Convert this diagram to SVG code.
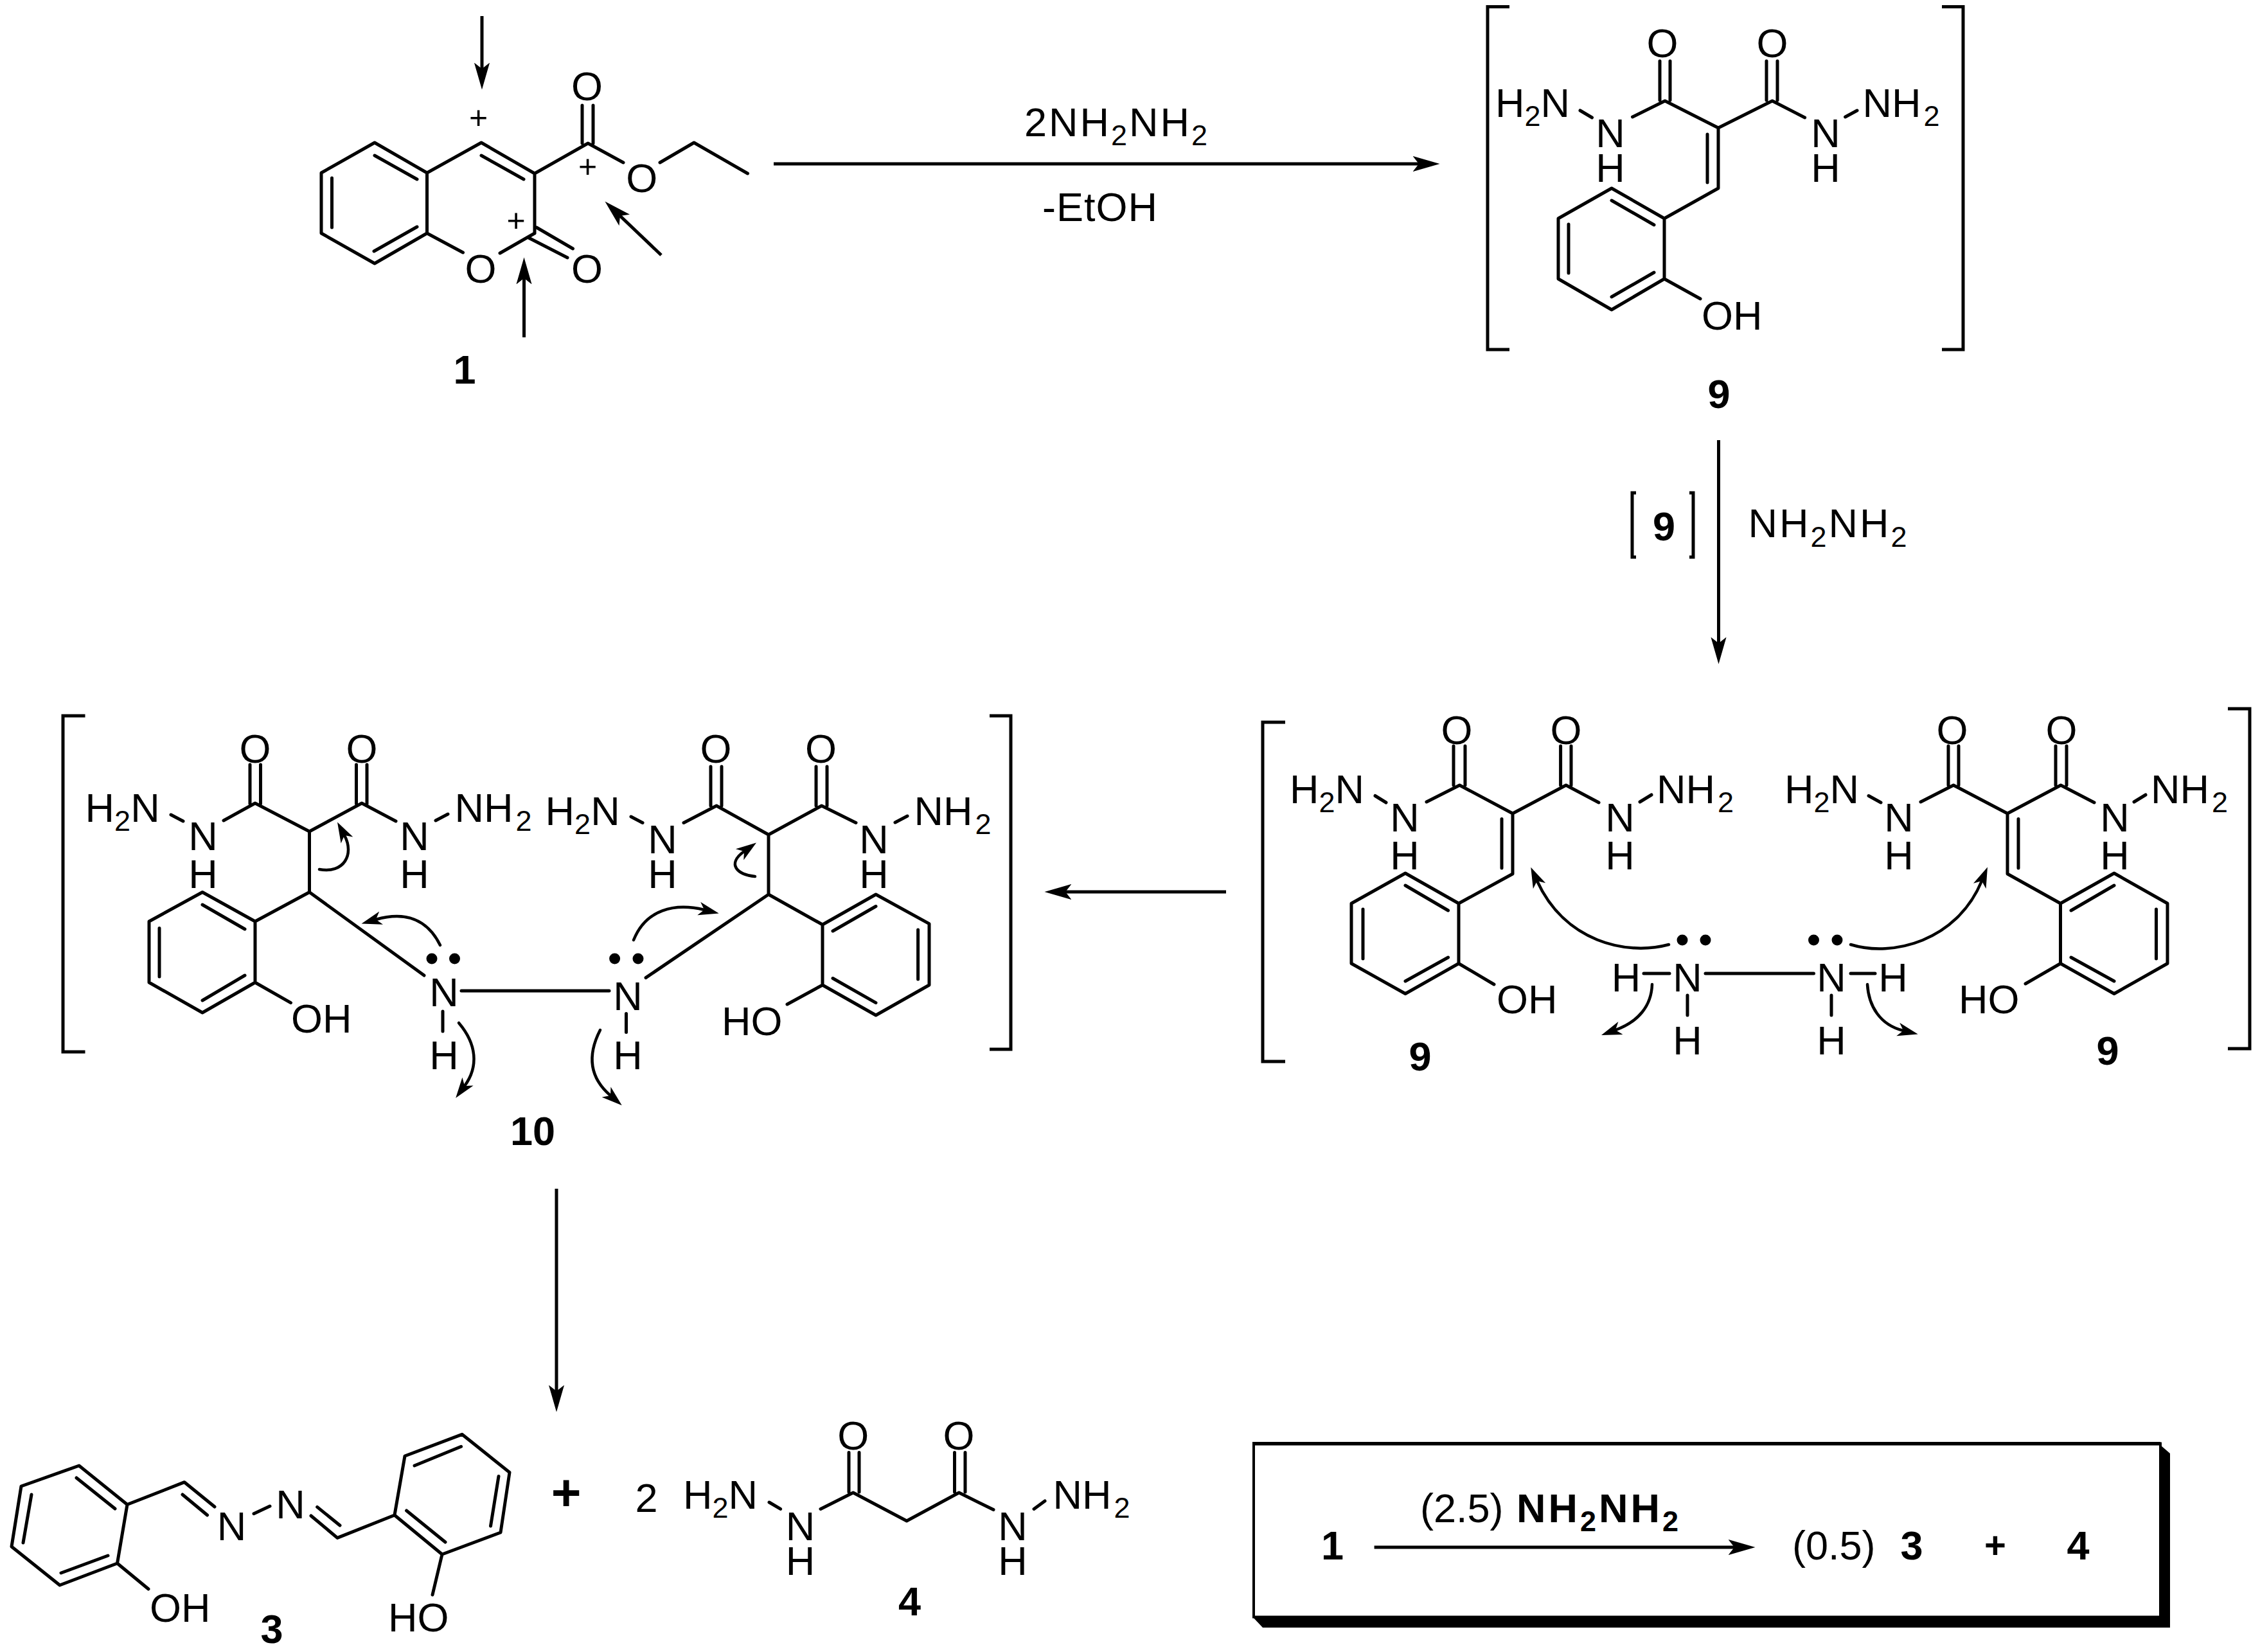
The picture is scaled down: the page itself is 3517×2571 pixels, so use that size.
<svg xmlns="http://www.w3.org/2000/svg" width="3517" height="2571" viewBox="0 0 3517 2571">
<style>
text{font-family:"Liberation Sans",Arial,sans-serif;font-size:63px;fill:#000}
.m{text-anchor:middle}
.b{font-weight:700}
.c{font-size:50px;text-anchor:middle}
.s{font-size:45px}
.bond{fill:none;stroke:#000;stroke-width:5;stroke-linejoin:round;stroke-linecap:round}
.br{fill:none;stroke:#000;stroke-width:5;stroke-linejoin:miter}
.ar{fill:none;stroke:#000;stroke-width:5;marker-end:url(#head)}
.cu{fill:none;stroke:#000;stroke-width:4.5;stroke-linecap:round;marker-end:url(#chead)}
</style>
<defs>
<marker id="head" markerUnits="userSpaceOnUse" markerWidth="42" markerHeight="26" viewBox="0 -12 40 24" refX="9" refY="0" orient="auto"><path d="M40 0L0 -11.5L9 0L0 11.5Z" fill="#000"/></marker>
<marker id="chead" markerUnits="userSpaceOnUse" markerWidth="34" markerHeight="24" viewBox="0 -11 32 22" refX="8" refY="0" orient="auto"><path d="M30 0L0 -10L8 0L0 10Z" fill="#000"/></marker>
</defs>
<rect width="3517" height="2571" fill="#fff"/>

<g id="connectors">
<path class="ar" d="M1204 255H2208"/>
<path class="ar" d="M2674.500 685V1001"/>
<path class="ar" d="M1908 1388H1658"/>
<path class="ar" d="M866 1850V2165"/>
</g>

<g id="mol-1">
<path class="bond" d="M583 222L500 269V363L583 410L664.500 363V269ZM583 242L649 279M516.500 277V354M582 391L649 353M664.500 269L749 222L832 270V363M749 242L815 279M664.500 363L720.500 393M778 394L832 363M835 354L891.500 387M822.500 370L883 401M832 270L915 223L970 253M906 164V223M923 164V223M1027 253L1080 222L1163.500 270"/>
<text class="m" x="748" y="440">O</text>
<text class="m" x="913.500" y="440">O</text>
<text class="m" x="913.500" y="156">O</text>
<text class="m" x="998.700" y="299">O</text>
<text class="c" x="744.600" y="200">+</text>
<text class="c" x="914.500" y="276">+</text>
<text class="c" x="803" y="360">+</text>
<path class="ar" d="M750 25V107"/>
<path class="ar" d="M815.500 525V433"/>
<path class="ar" d="M1029 397L965 336"/>
<text class="m b" x="723" y="597">1</text>
</g>

<g id="reagents-top">
<text x="1594" y="212" letter-spacing="3">2NH<tspan class="s" dy="14">2</tspan><tspan dy="-14">NH</tspan><tspan class="s" dy="14">2</tspan></text>
<text x="1622" y="344" letter-spacing="1">-EtOH</text>
</g>

<g id="mol-9-top">
<path class="br" d="M2349 10.500H2315V544H2349M3022 10.500H3055V544H3022"/>
<path class="bond" d="M2540.500 182L2591 157L2674 199L2758 157L2808.600 183M2583 95V156M2599 95V156M2749 95V156M2766 95V156M2674 199V293L2590 340M2657 209V284M2459 172L2477.500 183M2871.600 182L2890 172M2508 293L2425 340V434L2508 482L2590 434V340ZM2508 312L2574 350M2441 349V425M2508 462L2574 424M2590 434L2646 465"/>
<text class="m" x="2587" y="89">O</text>
<text class="m" x="2758" y="89">O</text>
<text x="2327" y="182">H<tspan class="s" dy="14">2</tspan><tspan dy="-14">N</tspan></text>
<text class="m" x="2506" y="229">N</text>
<text class="m" x="2506" y="283">H</text>
<text class="m" x="2841" y="229">N</text>
<text class="m" x="2841" y="283">H</text>
<text x="2898.500" y="182">NH<tspan class="s" dx="4" dy="14">2</tspan></text>
<text x="2648" y="513">OH</text>
<text class="m b" x="2675" y="635">9</text>
</g>

<g id="reagents-right">
<path class="br" d="M2546 767H2540V867H2546M2629 767H2635V867H2629"/>
<text class="m b" x="2589.500" y="841">9</text>
<text x="2720.500" y="836" letter-spacing="3">NH<tspan class="s" dy="15">2</tspan><tspan dy="-15">NH</tspan><tspan class="s" dy="15">2</tspan></text>
</g>

<g id="dimer-9">
<path class="br" d="M2000 1124H1965V1652H2000M3467 1103H3501V1632H3467"/>
<path class="bond" d="M2220 1248L2271.400 1222L2354 1266L2437 1222L2488 1249M2262 1161V1222M2280 1161V1222M2428.600 1161V1222M2445 1161V1222M2354 1266V1360L2270 1406M2337 1274.500V1351M2140 1238.500L2157 1249M2552 1248L2570 1237M2187 1359L2103 1406V1499.500L2187 1546.500L2270 1499.500V1406ZM2187 1378L2253.600 1417M2121 1415V1492M2187 1527L2253.600 1490M2270 1499.500L2325 1532"/>
<text class="m" x="2267" y="1158">O</text>
<text class="m" x="2437" y="1158">O</text>
<text x="2007" y="1250">H<tspan class="s" dy="14">2</tspan><tspan dy="-14">N</tspan></text>
<text class="m" x="2186" y="1294">N</text>
<text class="m" x="2186" y="1352.500">H</text>
<text class="m" x="2521" y="1294">N</text>
<text class="m" x="2521" y="1352.500">H</text>
<text x="2578" y="1250">NH<tspan class="s" dx="4" dy="14">2</tspan></text>
<text x="2329" y="1577">OH</text>
<text class="m b" x="2210" y="1666">9</text>

<path class="bond" d="M2989 1248L3040 1222L3124 1266L3207 1222L3259 1249M3032 1161V1222M3048 1161V1222M3199 1161V1222M3216 1161V1222M3124 1266V1360L3206.500 1406M3141 1274.500V1351M2908 1238.500L2927 1249M3321 1248L3339 1237M3290 1359L3373 1406V1499.500L3290 1546.500L3206.500 1499.500V1406ZM3290 1378L3223 1417M3355.500 1415V1492M3290 1527L3223 1490M3206.500 1499.500L3152 1531"/>
<text class="m" x="3038" y="1158">O</text>
<text class="m" x="3208" y="1158">O</text>
<text x="2777" y="1250">H<tspan class="s" dy="14">2</tspan><tspan dy="-14">N</tspan></text>
<text class="m" x="2955" y="1294">N</text>
<text class="m" x="2955" y="1352.500">H</text>
<text class="m" x="3291" y="1294">N</text>
<text class="m" x="3291" y="1352.500">H</text>
<text x="3347" y="1250">NH<tspan class="s" dx="4" dy="14">2</tspan></text>
<text x="3048" y="1577">HO</text>
<text class="m b" x="3280" y="1656.500">9</text>

<path class="bond" d="M2558 1515H2598M2654 1515H2822.500M2880 1515H2918M2626 1549V1580M2850 1549V1580"/>
<text class="m" x="2530.600" y="1543">H</text>
<text class="m" x="2626" y="1543">N</text>
<text class="m" x="2626" y="1641">H</text>
<text class="m" x="2850" y="1543">N</text>
<text class="m" x="2946" y="1543">H</text>
<text class="m" x="2850" y="1641">H</text>
<circle cx="2618" cy="1463" r="8.500"/><circle cx="2654" cy="1463" r="8.500"/>
<circle cx="2822.500" cy="1463" r="8.500"/><circle cx="2859" cy="1463" r="8.500"/>
<path class="cu" d="M2597 1470C2530 1488 2435 1465 2392 1371"/>
<path class="cu" d="M2571 1532C2570 1565 2550 1590 2514 1603"/>
<path class="cu" d="M2880 1470C2945 1490 3045 1465 3084 1371"/>
<path class="cu" d="M2906 1532C2908 1565 2925 1595 2962 1604"/>
</g>

<g id="mol-10">
<path class="br" d="M132.500 1114H98V1637H132.500M1540 1114H1573V1633H1540"/>
<path class="bond" d="M348 1277L397 1250L481.500 1294L563 1250L616 1278M389 1190V1251M405.500 1190V1251M554.500 1190V1251M571 1190V1251M481.500 1294V1388.500L397 1434M481.500 1388.500L660 1518M266 1268L285 1278M678 1277L697 1267M315 1388.500L232 1434V1529L315 1576L397 1529V1434ZM315 1408L381 1446M248 1444.500V1520M315 1557L381 1518M397 1529L452.500 1560.600M718 1542H948M689 1574V1605"/>
<text class="m" x="397" y="1187">O</text>
<text class="m" x="563" y="1187">O</text>
<text x="132.600" y="1279">H<tspan class="s" dy="14">2</tspan><tspan dy="-14">N</tspan></text>
<text class="m" x="316" y="1323">N</text>
<text class="m" x="316" y="1381.500">H</text>
<text class="m" x="645" y="1323">N</text>
<text class="m" x="645" y="1381.500">H</text>
<text x="707.600" y="1279">NH<tspan class="s" dx="4" dy="14">2</tspan></text>
<text x="453" y="1606.500">OH</text>
<text class="m" x="691" y="1566">N</text>
<text class="m" x="691" y="1664">H</text>
<circle cx="672" cy="1492" r="8.500"/><circle cx="707.500" cy="1492" r="8.500"/>

<path class="bond" d="M1064 1280.500L1115 1254L1196 1299L1278.600 1254L1332 1280.500M1106 1193V1254M1123 1193V1254M1270 1193V1254M1287 1193V1254M1196 1299V1392L1280 1439M1196 1392L1005 1521.600M982 1271L1000 1280.500M1393 1280L1412 1270M1363 1392L1446 1437.600V1533L1363 1580L1280 1533V1439ZM1363 1410.500L1296 1449M1428.600 1447V1524M1363 1560.600L1296 1522.500M1280 1533L1225 1563M974.500 1577.600V1606.500"/>
<text class="m" x="1114" y="1187">O</text>
<text class="m" x="1277.500" y="1187">O</text>
<text x="848.600" y="1284">H<tspan class="s" dy="14">2</tspan><tspan dy="-14">N</tspan></text>
<text class="m" x="1031" y="1328">N</text>
<text class="m" x="1031" y="1381.500">H</text>
<text class="m" x="1360" y="1328">N</text>
<text class="m" x="1360" y="1381.500">H</text>
<text x="1422.500" y="1284">NH<tspan class="s" dx="4" dy="14">2</tspan></text>
<text x="1123" y="1611">HO</text>
<text class="m" x="977" y="1572">N</text>
<text class="m" x="977" y="1664">H</text>
<circle cx="956.600" cy="1492" r="8.500"/><circle cx="993" cy="1492" r="8.500"/>
<path class="cu" d="M685 1471C665 1430 630 1418 585 1431"/>
<path class="cu" d="M497 1353C535 1360 552 1330 536 1300"/>
<path class="cu" d="M714 1592C742 1625 745 1660 723 1690"/>
<path class="cu" d="M986 1463C1005 1415 1050 1405 1096 1416"/>
<path class="cu" d="M1175 1364C1148 1362 1130 1345 1158 1325"/>
<path class="cu" d="M934 1603C915 1640 915 1675 950 1705"/>
<text class="m b" x="829" y="1782">10</text>
</g>

<g id="mol-3">
<path class="bond" d="M123 2281L33 2313L18 2407L93 2467L182.500 2433L198 2341.500ZM119 2300L179 2348M49 2326L36 2401M95 2448L168 2421M198 2341.500L287 2306.700L334 2345M284 2326L322.600 2358M395 2355.700L420 2344M493.700 2345.400L529 2374M484 2359L525 2393.400L614 2358M614 2358L630 2266L719 2232.300L793 2291.500L779 2385L688 2419ZM645 2281L717.600 2251.300M776 2297.400L763.500 2375M693 2400L632.600 2351M182.500 2433L231 2473M688 2419L673 2482"/>
<text class="m" x="360.500" y="2397">N</text>
<text class="m" x="452" y="2363">N</text>
<text x="233" y="2524">OH</text>
<text x="604" y="2539">HO</text>
<text class="m b" x="423" y="2557">3</text>
</g>

<g id="plus-big"><text class="m b" x="881" y="2350" style="font-size:80px">+</text></g>

<g id="mol-4">
<text class="m" x="1006" y="2353">2</text>
<path class="bond" d="M1197 2338L1214.600 2348.400M1277 2348.400L1327.700 2323L1411 2367L1492.400 2323L1546 2349.600M1321 2260.600V2322M1337 2260.600V2322M1485.500 2260.600V2322M1502 2260.600V2322M1609 2348.400L1626 2336"/>
<text class="m" x="1327.700" y="2256">O</text>
<text class="m" x="1492" y="2256">O</text>
<text x="1063" y="2348">H<tspan class="s" dy="14">2</tspan><tspan dy="-14">N</tspan></text>
<text class="m" x="1245.600" y="2397">N</text>
<text class="m" x="1245.600" y="2451">H</text>
<text class="m" x="1576" y="2397">N</text>
<text class="m" x="1576" y="2451">H</text>
<text x="1638.400" y="2348">NH<tspan class="s" dx="4" dy="14">2</tspan></text>
<text class="m b" x="1415.500" y="2514">4</text>
</g>

<g id="summary-box">
<path d="M3362 2249L3377 2262V2533H1965L1949 2516Z" fill="#000"/>
<rect x="1951" y="2246.500" width="1411" height="270" fill="#fff" stroke="#000" stroke-width="4"/>
<path d="M1949 2244H3362V2249.500H1949Z" fill="#000"/>
<text class="m b" x="2073.500" y="2427">1</text>
<path class="ar" d="M2138.600 2408H2699"/>
<text x="2210" y="2369">(2.5)</text>
<text class="b" x="2360" y="2369" letter-spacing="4">NH<tspan class="s" dy="14">2</tspan><tspan dy="-14">NH</tspan><tspan class="s" dy="14">2</tspan></text>
<text x="2789" y="2427">(0.5)</text>
<text class="m b" x="2975" y="2427">3</text>
<text class="m b" x="3105" y="2425" style="font-size:58px">+</text>
<text class="m b" x="3234" y="2427">4</text>
</g>
</svg>
